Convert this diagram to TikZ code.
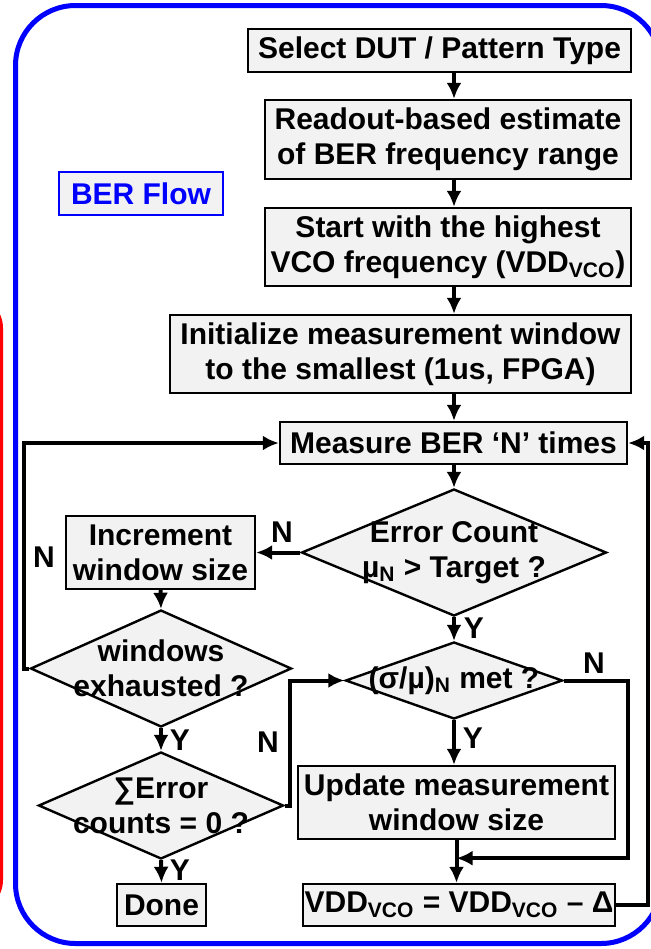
\documentclass[tikz,border=0pt]{standalone}
\usepackage{fontspec}
\setmainfont{Liberation Sans}
\usetikzlibrary{shapes.geometric,arrows.meta}
\definecolor{boxgray}{RGB}{242,242,242}
\tikzset{
  flow/.style={font=\fontsize{15}{17.5}\selectfont\bfseries},
  box/.style={flow, draw, line width=1.2pt, fill=boxgray, inner sep=0pt, align=center},
  dia/.style={diamond, draw, line width=1.2pt, fill=boxgray, inner sep=0pt},
  dtext/.style={flow, align=center, inner sep=0pt},
  arr/.style={line width=2pt, -{Latex[length=8pt,width=7.5pt]}},
  yn/.style={flow, inner sep=0pt}
}

\begin{document}
\begin{tikzpicture}[x=0.5pt,y=-0.5pt]
\useasboundingbox (0,0) rectangle (651,949);
% frame and the edge of the next panel
\begin{scope}
  \clip (0,0) rectangle (651,949);
  \draw[red, line width=2.5pt, rounded corners=15pt] (-100,298) rectangle (0.5,910);
  \draw[blue, line width=2.5pt, rounded corners=30pt] (15.5,5.5) rectangle (661,943.5);
\end{scope}

\node[box, draw=blue, text=blue, minimum width=82pt, minimum height=21.5pt] (flow) at (141,193.5) {BER Flow};

% main column
\node[box, minimum width=191.5pt, minimum height=21.5pt] (sel) at (439.5,50.5) {Select DUT / Pattern Type};
\node[box, minimum width=183pt, minimum height=39.5pt] (read) at (448,139.5) {Readout-based estimate\\of BER frequency range};
\node[box, minimum width=183pt, minimum height=39pt] (start) at (448,247) {Start with the highest\\VCO frequency (VDD\textsubscript{VCO})};
\node[box, minimum width=230.5pt, minimum height=39pt] (init) at (400.5,354) {Initialize measurement window\\to the smallest (1us, FPGA)};
\node[box, minimum width=173.5pt, minimum height=21pt] (meas) at (453.5,443) {Measure BER ‘N’ times};
\node[dia, minimum width=152.5pt, minimum height=63.5pt,
      label={[dtext]center:{Error Count\\µ\textsubscript{N} > Target ?}}] (ec) at (454,552.5) {};
\node[dia, minimum width=108.5pt, minimum height=38.5pt,
      label={[dtext]center:{(σ/µ)\textsubscript{N} met ?}}] (sig) at (454,680.5) {};
\node[box, minimum width=158.5pt, minimum height=36.5pt] (upd) at (456.5,802.5) {Update measurement\\window size};
\node[box, minimum width=156pt, minimum height=21pt] (vdd) at (459,905) {VDD\textsubscript{VCO} = VDD\textsubscript{VCO} – Δ};

% left column
\node[box, minimum width=94.5pt, minimum height=36.5pt] (inc) at (160.5,552.5) {Increment\\window size};
\node[dia, minimum width=130.5pt, minimum height=58.5pt,
      label={[dtext]center:{windows\\exhausted ?}}] (wex) at (161,668.5) {};
\node[dia, minimum width=122.5pt, minimum height=53.5pt,
      label={[dtext]center:{∑Error\\counts = 0 ?}}] (sum) at (161,805.5) {};
\node[box, minimum width=44.5pt, minimum height=21pt] (done) at (161.5,905) {Done};

% connectors
\draw[arr] (sel.south -| ec) -- (read.north -| ec);
\draw[arr] (read.south -| ec) -- (start.north -| ec);
\draw[arr] (start.south -| ec) -- (init.north -| ec);
\draw[arr] (init.south -| ec) -- (meas.north -| ec);
\draw[arr] (meas.south -| ec) -- (ec.north);
\draw[arr] (ec.west) -- (inc.east);
\draw[arr] (inc.south) -- (wex.north);
\draw[arr] (wex.west) -- ++(-5,0) |- (meas.west);
\draw[arr] (ec.south) -- (sig.north);
\draw[arr] (wex.south) -- (sum.north);
\draw[arr] (sum.south) -- (done.north);
\draw[arr] (sum.east) -- ++(5,0) |- (sig.west);
\draw[arr] (sig.south) -- (sig.south |- upd.north);
\coordinate (jn) at ([yshift=-9pt]upd.south);
\draw[arr] (sig.east) -- ++(64,0) |- (jn);
\draw[arr] (upd.south) -- (upd.south |- vdd.north);
\draw[arr] (vdd.east) -- ++(32,0) |- (meas.east);

% branch labels
\node[yn] (nec) at (282,532) {N};
\node[yn] (nwex) at (44,557) {N};
\node[yn] (yec) at (474,628) {Y};
\node[yn] (ywex) at (180,740) {Y};
\node[yn] (nsum) at (268,742) {N};
\node[yn] (nsig) at (594,663) {N};
\node[yn] (ysig) at (473,738) {Y};
\node[yn] (ysum) at (180,870) {Y};
\end{tikzpicture}
\end{document}
